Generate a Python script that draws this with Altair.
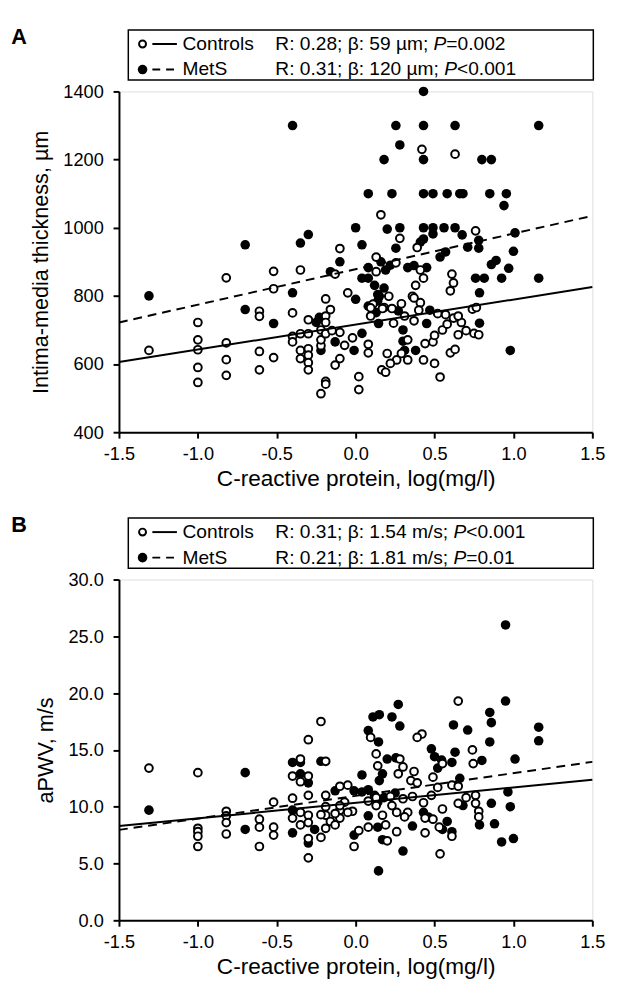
import altair as alt
import pandas as pd

# ---------------- Panel A data (CRP log vs IMT) ----------------
a_ctrl_x = [-0.82, -0.52, -0.35, -0.10, -0.13, -0.52, -0.19, -0.05, -0.61, -0.61,
            -0.40, -0.16, -0.30, -0.19, -0.19, -1.0, -1.0, -1.0, -1.0, -1.0,
            -1.31, -0.82, -0.82, -0.82, -0.61, -0.61, -0.52, -0.40, -0.40, -0.35,
            -0.35, -0.35, -0.30, -0.30, -0.30, -0.30, -0.30, -0.22, -0.22, -0.22,
            -0.19, -0.15, -0.10, -0.07, -0.10, -0.13, -0.19, -0.19, -0.22, -0.02,
            0.02, 0.02,
            0.42, 0.63, 0.16, 0.76, 0.28, 0.39, 0.13, 0.255, 0.13, 0.41,
            0.43, 0.61, 0.62, 0.60, 0.38, 0.21, 0.36, 0.41, 0.29, 0.11,
            0.18, 0.74, 0.765, 0.08, 0.08, 0.095, 0.095, 0.17, 0.23, 0.37,
            0.24, 0.31, 0.37, 0.40, 0.33, 0.29, 0.20, 0.26, 0.33, 0.22,
            0.165, 0.19, 0.43, 0.50, 0.44, 0.49, 0.50, 0.55, 0.58, 0.62,
            0.67, 0.65, 0.60, 0.63, 0.535, 0.65, 0.70, 0.75, 0.78, 0.52, 0.57]
a_ctrl_y = [853, 872, 876, 939, 864, 821, 791, 809, 755, 740,
            750, 760, 730, 741, 722, 722, 671, 642, 590, 546,
            640, 662, 613, 567, 637, 583, 619, 681, 665, 689,
            640, 616, 689, 645, 626, 604, 583, 654, 671, 700,
            689, 698, 693, 655, 616, 597, 549, 541, 513, 677,
            563, 525,
            1230, 1216, 1038, 991, 969, 942, 914, 897, 871, 876,
            852, 864, 838, 815, 831, 799, 799, 780, 777, 776,
            766, 761, 766, 658, 633, 765, 741, 763, 763, 794,
            720, 741, 727, 758, 671, 631, 631, 612, 612, 602,
            583, 576, 612, 602, 660, 665, 684, 700, 717, 735,
            722, 741, 633, 643, 562, 686, 698, 690, 686, 748, 745]

a_mets_x = [-0.40, -0.70, -0.35, -0.30, -0.10, 0.0, -0.16, -0.40, 0.0, -1.31,
            -0.70, -0.52, -0.25, -0.23, -0.22, -0.13, -0.01,
            0.43, 0.255, 0.43, 0.63, 1.16, 0.28, 0.18, 0.43, 0.80,
            0.86, 0.08, 0.23, 0.43, 0.49, 0.58, 0.66, 0.68, 0.85, 0.955,
            0.94, 0.20, 0.28, 0.43, 0.49, 0.56, 0.63, 0.49, 0.675, 1.01,
            0.43, 0.41, 0.04, 0.255, 0.71, 0.78, 0.78, 1.0, 0.535, 0.57,
            0.08, 0.16, 0.19, 0.22, 0.33, 0.37, 0.45, 0.86, 0.89, 0.97,
            0.04, 0.08, 0.12, 0.18, 0.15, 0.76, 0.815, 0.925, 1.16, 0.785,
            0.785, 0.98, 0.14, 0.14, 0.08, 0.13, 0.145, 0.04, 0.30, 0.30,
            0.31, 0.38, 0.27, 0.45, 0.47]
a_mets_y = [1300, 950, 955, 980, 900, 1000, 871, 809, 790, 800,
            760, 719, 722, 737, 640, 665, 640,
            1400, 1300, 1300, 1300, 1300, 1243, 1200, 1200, 1200,
            1200, 1100, 1100, 1100, 1100, 1100, 1100, 1100, 1100, 1100,
            1065, 996, 1000, 1000, 1000, 1000, 1000, 982, 979, 985,
            967, 958, 950, 940, 943, 963, 940, 931, 914, 929,
            883, 900, 876, 890, 883, 889, 883, 892, 904, 881,
            852, 852, 831, 823, 799, 852, 852, 852, 852, 809,
            720, 640, 804, 785, 770, 751, 719, 690, 700, 667,
            640, 640, 756, 719, 758]

a_line_x = [-1.5, 1.5]
a_ctrl_line_y = [606, 826]
a_mets_line_y = [722, 1035]

# ---------------- Panel B data (CRP log vs aPWV) ----------------
b_ctrl_x = [-1.31, -1.0, -1.0, -1.0, -1.0, -1.0, -0.82, -0.82, -0.82, -0.82,
            -0.61, -0.61, -0.61, -0.52, -0.52, -0.52, -0.35, -0.40, -0.30, -0.35,
            -0.30, -0.22, -0.19, -0.30, -0.40, -0.40, -0.35, -0.35, -0.30, -0.30,
            -0.30, -0.30, -0.22, -0.19, -0.19, -0.19, -0.19, -0.16, -0.13, -0.10,
            -0.05, -0.07, -0.10, -0.10, -0.13, -0.02, -0.01, -0.22,
            0.42, 0.39, 0.095, 0.13, 0.74, 0.745, 0.28, 0.14, 0.30, 0.37,
            0.55, 0.27, 0.35, 0.39, 0.49, 0.13, 0.22, 0.30, 0.36, 0.48,
            0.52, 0.61, 0.65, 0.65, 0.70, 0.76, 0.76, 0.78, 0.78, -0.10,
            -0.05, 0.08, 0.13, 0.23, 0.26, 0.17, 0.33, 0.31, 0.43, 0.49,
            0.44, 0.55, 0.08, 0.02, 0.26, 0.19, 0.20, 0.44, 0.53, 0.61,
            0.535, 0.65]
b_ctrl_y = [13.4, 13.0, 8.1, 7.8, 7.4, 6.5, 9.6, 9.2, 8.6, 7.6,
            8.9, 8.2, 6.5, 10.4, 8.2, 7.5, 14.2, 12.7, 12.7, 12.2,
            15.9, 17.5, 14.0, 11.0, 10.75, 9.0, 9.5, 8.4, 9.25, 8.6,
            7.2, 5.5, 7.3, 11.0, 10.0, 9.25, 8.1, 8.7, 8.4, 11.8,
            11.9, 10.4, 9.7, 9.0, 9.4, 9.6, 6.5, 9.3,
            16.4, 16.1, 16.1, 14.65, 15.0, 13.8, 14.2, 13.6, 13.5, 13.1,
            13.8, 12.9, 12.3, 12.1, 12.6, 10.8, 10.9, 10.7, 10.9, 11.0,
            11.7, 11.9, 11.8, 10.3, 10.8, 11.0, 10.3, 9.6, 9.1, 10.1,
            9.5, 10.5, 10.1, 10.1, 9.5, 9.25, 9.5, 9.1, 10.35, 8.9,
            9.0, 9.8, 8.2, 7.9, 7.8, 8.4, 7.0, 7.7, 8.2, 7.4,
            5.85, 19.3]

b_mets_x = [-1.31, -0.70, -0.70, -0.40, -0.35, -0.35, -0.30, -0.22, -0.40, -0.40,
            -0.30, -0.26, -0.13, -0.01, -0.01,
            0.11, 0.23, 0.28, 0.86, 1.16, 1.16, 0.71, 0.85, 0.08, 0.145,
            0.48, 0.50, 0.63, 0.61, 0.545, 0.52, 0.80, 1.01, 0.20, 0.255,
            0.04, 0.17, 0.15, 0.66, 0.04, 0.08, 0.965, 0.86, 0.98, 0.785,
            0.88, 0.925, 1.0, 0.30, 0.145, 0.08, 0.17, 0.14, 0.43, 0.46,
            0.58, 0.61, 0.68, 0.95, 0.95, 0.27, 0.15, 0.85, 0.62, 0.12,
            0.18, 0.25, 0.14, 0.55, 0.36]
b_mets_y = [9.7, 13.0, 8.0, 13.9, 13.9, 12.9, 12.1, 14.0, 9.7, 7.7,
            6.8, 8.0, 11.4, 11.4, 7.5,
            17.9, 17.9, 17.1, 17.4, 17.0, 15.8, 16.75, 15.7, 16.7, 15.7,
            15.1, 14.4, 14.8, 13.9, 14.1, 13.4, 14.07, 14.2, 14.2, 14.3,
            12.8, 12.9, 12.3, 12.5, 11.3, 11.5, 11.3, 10.3, 10.0, 8.4,
            8.5, 6.9, 7.2, 6.1, 4.35, 9.2, 7.1, 8.2, 9.5, 9.1,
            8.7, 7.8, 10.1, 26.0, 19.3, 19.0, 18.1, 18.3, 17.2, 11.0,
            10.8, 11.2, 10.4, 8.0, 8.3]

b_line_x = [-1.5, 1.5]
b_ctrl_line_y = [8.3, 12.37]
b_mets_line_y = [7.96, 13.95]

x_ticks = [-1.5, -1.0, -0.5, 0.0, 0.5, 1.0, 1.5]
a_y_ticks = [400, 600, 800, 1000, 1200, 1400]
b_y_ticks = [0, 5, 10, 15, 20, 25, 30]

FONT = "Liberation Sans"
W, H = 482, 347
LEG_FS = 19.5


def panel(letter, cx, cy, mx, my, lx, lcy, lmy, ydom, yticks, yfmt, ytitle,
          ctrl_stats, mets_stats):
    ctrl = pd.DataFrame({"x": cx, "y": cy})
    mets = pd.DataFrame({"x": mx, "y": my})
    lctrl = pd.DataFrame({"x": lx, "y": lcy})
    lmets = pd.DataFrame({"x": lx, "y": lmy})
    one = pd.DataFrame({"a": [0]})

    xenc = alt.X("x:Q", scale=alt.Scale(domain=[-1.5, 1.5], nice=False, zero=False),
                 axis=alt.Axis(values=x_ticks,
                               labelExpr="replace(format(datum.value, '.1f'), '\u2212', '-')",
                               title="C-reactive protein, log(mg/l)",
                               grid=False, domainColor="black", domainWidth=2,
                               tickColor="black", tickWidth=2, tickSize=6,
                               labelFont=FONT, labelFontSize=18.5, labelColor="black",
                               titleFont=FONT, titleFontSize=23, titleColor="black",
                               titleFontWeight="normal", labelPadding=7, titlePadding=5,
                               labelFlush=False, labelOverlap=False))
    yenc = alt.Y("y:Q", scale=alt.Scale(domain=ydom, nice=False, zero=False),
                 axis=alt.Axis(values=yticks, format=yfmt, title=ytitle,
                               grid=False, domainColor="black", domainWidth=2,
                               tickColor="black", tickWidth=2, tickSize=6,
                               labelFont=FONT, labelFontSize=18.5, labelColor="black",
                               titleFont=FONT, titleFontSize=22, titleColor="black",
                               titleFontWeight="normal", labelPadding=10, titlePadding=11,
                               labelFlush=False, labelOverlap=False))

    filled = alt.Chart(mets).mark_circle(color="black", size=95, opacity=1).encode(x=xenc, y=yenc)
    opened = alt.Chart(ctrl).mark_circle(color="white", stroke="black", strokeWidth=2,
                                          size=62, opacity=1).encode(x="x:Q", y="y:Q")
    line_c = alt.Chart(lctrl).mark_line(color="black", strokeWidth=2).encode(x="x:Q", y="y:Q")
    line_m = alt.Chart(lmets).mark_line(color="black", strokeWidth=2,
                                         strokeDash=[9, 6]).encode(x="x:Q", y="y:Q")

    box = alt.Chart(one).mark_rect(fill="white", stroke="black", strokeWidth=1.5).encode(
        x=alt.value(9.5), x2=alt.value(483), y=alt.value(-62.6), y2=alt.value(-11.6))
    r1, r2 = -48.3, -22.3
    sym_o = alt.Chart(one).mark_point(shape="circle", filled=False, color="black",
                                      strokeWidth=2, size=50, opacity=1).encode(
        x=alt.value(24), y=alt.value(r1))
    sym_f = alt.Chart(one).mark_circle(color="black", size=95, opacity=1).encode(
        x=alt.value(24), y=alt.value(r2))
    leg_l1 = alt.Chart(one).mark_rule(color="black", strokeWidth=2).encode(
        x=alt.value(34), x2=alt.value(59), y=alt.value(r1))
    leg_l2 = alt.Chart(one).mark_rule(color="black", strokeWidth=2, strokeDash=[8, 6]).encode(
        x=alt.value(34), x2=alt.value(59), y=alt.value(r2))

    def txt(s, x, y, style="normal", weight="normal", size=LEG_FS):
        return alt.Chart(one).mark_text(align="left", baseline="middle", font=FONT,
                                        fontSize=size, fontStyle=style, fontWeight=weight,
                                        color="black").encode(
            x=alt.value(x), y=alt.value(y), text=alt.value(s))

    texts = [txt("Controls", 64.7, r1), txt("MetS", 64.7, r2)]
    for (pre, p, post, pw), r in ((ctrl_stats, r1), (mets_stats, r2)):
        x0 = 159.2
        texts.append(txt(pre, x0, r))
        texts.append(txt(p, x0 + pw * LEG_FS, r, style="italic"))
        texts.append(txt(post, x0 + (pw + 0.667) * LEG_FS, r))
    texts.append(txt(letter, -109.8, -55.3, weight="bold", size=22))

    return alt.layer(filled, opened, line_c, line_m, box, sym_o, sym_f, leg_l1, leg_l2,
                     *texts).properties(width=W, height=H)


chart_a = panel("A", a_ctrl_x, a_ctrl_y, a_mets_x, a_mets_y, a_line_x, a_ctrl_line_y,
                a_mets_line_y, [400, 1400], a_y_ticks, "d", "Intima-media thickness, \u00b5m",
                ("R: 0.28; \u03b2: 59 \u00b5m; ", "P", "=0.002", 8.264),
                ("R: 0.31; \u03b2: 120 \u00b5m; ", "P", "<0.001", 8.82))
chart_b = panel("B", b_ctrl_x, b_ctrl_y, b_mets_x, b_mets_y, b_line_x, b_ctrl_line_y,
                b_mets_line_y, [0, 30], b_y_ticks, ".1f", "aPWV, m/s",
                ("R: 0.31; \u03b2: 1.54 m/s; ", "P", "<0.001", 9.3),
                ("R: 0.21; \u03b2: 1.81 m/s; ", "P", "=0.01", 9.3))

chart = alt.vconcat(chart_a, chart_b, spacing=150, bounds="flush").properties(
    padding={"left": 2, "top": 9, "right": 5, "bottom": 2}
).configure_view(strokeWidth=0).configure(background="white")

chart.save("out.html", embed_options={"renderer": "svg", "actions": False})
